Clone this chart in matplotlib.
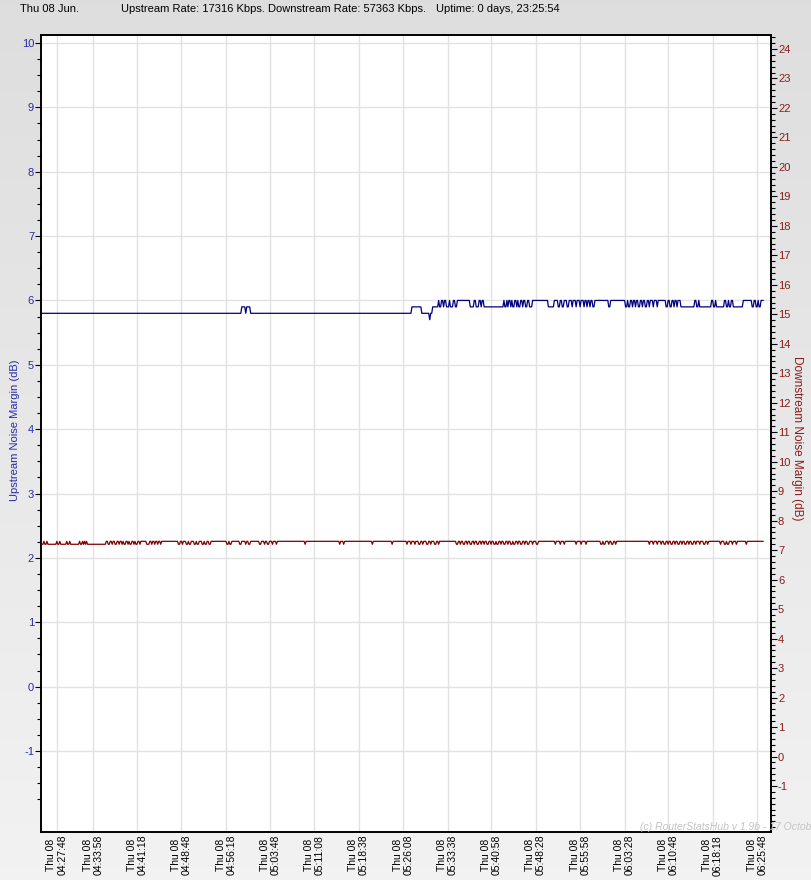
import numpy as np
import matplotlib
matplotlib.use("Agg")
import matplotlib.pyplot as plt
from matplotlib.ticker import FixedLocator

plt.rcParams["font.family"] = ["Liberation Sans", "DejaVu Sans"]
plt.rcParams["axes.unicode_minus"] = False

# --- Dados (amostras a cada ~10 s, eixo x = indice da amostra) ---
header_date = "Thu 08 Jun."
header_up = "Upstream Rate: 17316 Kbps."
header_down = "Downstream Rate: 57363 Kbps."
header_uptime = "Uptime: 0 days, 23:25:54"

tick_idx = [16, 53, 97, 142, 187, 232, 276, 321, 366, 411, 455, 500, 545, 590, 634, 679, 724]
tick_times = ["04:27:48", "04:33:58", "04:41:18", "04:48:48", "04:56:18", "05:03:48",
              "05:11:08", "05:18:38", "05:26:08", "05:33:38", "05:40:58", "05:48:28",
              "05:55:58", "06:03:28", "06:10:48", "06:18:18", "06:25:48"]
tick_day = "Thu 08"
n_samples = 731

# upstream noise margin: (indice onde muda, valor em dB)
up_changes = [
    (0, 5.8), (203, 5.9), (207, 5.8), (208, 5.9), (212, 5.8), (375, 5.9), (385, 5.8),
    (393, 5.7), (394, 5.8), (396, 5.9), (402, 6.0), (403, 5.9), (405, 6.0), (407, 5.9),
    (408, 6.0), (410, 5.9), (413, 6.0), (414, 5.9), (417, 6.0), (419, 5.9), (421, 6.0),
    (434, 5.9), (438, 6.0), (440, 5.9), (443, 6.0), (445, 5.9), (446, 6.0), (448, 5.9),
    (468, 6.0), (469, 5.9), (471, 6.0), (472, 5.9), (473, 6.0), (475, 5.9), (476, 6.0),
    (477, 5.9), (479, 6.0), (481, 5.9), (482, 6.0), (483, 5.9), (485, 6.0), (487, 5.9),
    (488, 6.0), (490, 5.9), (492, 6.0), (494, 5.9), (497, 6.0), (513, 5.9), (519, 6.0),
    (523, 5.9), (525, 6.0), (527, 5.9), (529, 6.0), (532, 5.9), (534, 6.0), (537, 5.9),
    (538, 6.0), (541, 5.9), (542, 6.0), (545, 5.9), (546, 6.0), (549, 5.9), (550, 6.0),
    (552, 5.9), (553, 6.0), (555, 5.9), (556, 6.0), (558, 5.9), (560, 6.0), (574, 5.9),
    (576, 6.0), (591, 5.9), (593, 6.0), (594, 5.9), (596, 6.0), (598, 5.9), (599, 6.0),
    (601, 5.9), (602, 6.0), (604, 5.9), (606, 6.0), (608, 5.9), (609, 6.0), (611, 5.9),
    (613, 6.0), (615, 5.9), (616, 6.0), (619, 5.9), (620, 6.0), (623, 5.9), (624, 6.0),
    (632, 5.9), (634, 6.0), (636, 5.9), (638, 6.0), (640, 5.9), (641, 6.0), (643, 5.9),
    (644, 6.0), (647, 5.9), (661, 6.0), (663, 5.9), (665, 6.0), (666, 5.9), (678, 6.0),
    (680, 5.9), (682, 6.0), (683, 5.9), (691, 6.0), (693, 5.9), (695, 6.0), (696, 5.9),
    (698, 6.0), (700, 5.9), (710, 6.0), (719, 5.9), (721, 6.0), (723, 5.9), (725, 6.0),
    (726, 5.9), (728, 6.0),
]

# downstream noise margin
down_changes = [
    (0, 7.2), (3, 7.3), (4, 7.2), (6, 7.3), (7, 7.2), (16, 7.3), (17, 7.2), (19, 7.3),
    (20, 7.2), (26, 7.3), (27, 7.2), (29, 7.3), (30, 7.2), (39, 7.3), (40, 7.2), (42, 7.3),
    (43, 7.2), (44, 7.3), (45, 7.2), (46, 7.3), (47, 7.2), (66, 7.3), (68, 7.2), (70, 7.3),
    (72, 7.2), (73, 7.3), (75, 7.2), (77, 7.3), (79, 7.2), (80, 7.3), (82, 7.2), (83, 7.3),
    (84, 7.2), (86, 7.3), (88, 7.2), (89, 7.3), (90, 7.2), (92, 7.3), (94, 7.2), (95, 7.3),
    (96, 7.2), (98, 7.3), (100, 7.2), (101, 7.3), (107, 7.2), (110, 7.3), (112, 7.2),
    (113, 7.3), (115, 7.2), (116, 7.3), (118, 7.2), (119, 7.3), (121, 7.2), (122, 7.3),
    (139, 7.2), (141, 7.3), (143, 7.2), (144, 7.3), (147, 7.2), (149, 7.3), (150, 7.2),
    (152, 7.3), (155, 7.2), (157, 7.3), (158, 7.2), (160, 7.3), (163, 7.2), (165, 7.3),
    (166, 7.2), (168, 7.3), (170, 7.2), (172, 7.3), (188, 7.2), (190, 7.3), (191, 7.2),
    (193, 7.3), (201, 7.2), (203, 7.3), (207, 7.2), (208, 7.3), (210, 7.2), (212, 7.3),
    (221, 7.2), (223, 7.3), (226, 7.2), (227, 7.3), (229, 7.2), (231, 7.3), (234, 7.2),
    (235, 7.3), (238, 7.2), (239, 7.3), (267, 7.2), (268, 7.3), (302, 7.2), (303, 7.3),
    (306, 7.2), (307, 7.3), (335, 7.2), (336, 7.3), (355, 7.2), (356, 7.3), (370, 7.2),
    (371, 7.3), (374, 7.2), (375, 7.3), (378, 7.2), (379, 7.3), (382, 7.2), (384, 7.3),
    (386, 7.2), (387, 7.3), (390, 7.2), (392, 7.3), (394, 7.2), (395, 7.3), (398, 7.2),
    (400, 7.3), (402, 7.2), (403, 7.3), (420, 7.2), (422, 7.3), (424, 7.2), (425, 7.3),
    (427, 7.2), (429, 7.3), (431, 7.2), (432, 7.3), (434, 7.2), (436, 7.3), (438, 7.2),
    (439, 7.3), (441, 7.2), (443, 7.3), (445, 7.2), (446, 7.3), (448, 7.2), (449, 7.3),
    (451, 7.2), (453, 7.3), (455, 7.2), (456, 7.3), (458, 7.2), (460, 7.3), (461, 7.2),
    (463, 7.3), (465, 7.2), (466, 7.3), (468, 7.2), (470, 7.3), (472, 7.2), (473, 7.3),
    (475, 7.2), (477, 7.3), (478, 7.2), (480, 7.3), (482, 7.2), (483, 7.3), (485, 7.2),
    (487, 7.3), (489, 7.2), (490, 7.3), (492, 7.2), (494, 7.3), (497, 7.2), (498, 7.3),
    (501, 7.2), (503, 7.3), (520, 7.2), (521, 7.3), (525, 7.2), (526, 7.3), (529, 7.2),
    (530, 7.3), (541, 7.2), (542, 7.3), (546, 7.2), (547, 7.3), (551, 7.2), (552, 7.3),
    (566, 7.2), (568, 7.3), (569, 7.2), (571, 7.3), (574, 7.2), (575, 7.3), (577, 7.2),
    (579, 7.3), (581, 7.2), (582, 7.3), (615, 7.2), (616, 7.3), (619, 7.2), (620, 7.3),
    (623, 7.2), (624, 7.3), (627, 7.2), (628, 7.3), (630, 7.2), (632, 7.3), (634, 7.2),
    (635, 7.3), (637, 7.2), (639, 7.3), (641, 7.2), (642, 7.3), (644, 7.2), (646, 7.3),
    (648, 7.2), (649, 7.3), (651, 7.2), (653, 7.3), (655, 7.2), (656, 7.3), (658, 7.2),
    (660, 7.3), (662, 7.2), (663, 7.3), (666, 7.2), (667, 7.3), (670, 7.2), (672, 7.3),
    (674, 7.2), (675, 7.3), (687, 7.2), (688, 7.3), (691, 7.2), (693, 7.3), (694, 7.2),
    (696, 7.3), (699, 7.2), (700, 7.3), (703, 7.2), (704, 7.3), (713, 7.2), (714, 7.3),
]

UP_COLOR = "#000080"
DOWN_COLOR = "#800000"
UP_TEXT = "#2a2aa8"
DOWN_TEXT = "#8b1c1c"


def runs_to_line(changes, end):
    '''Converte a lista de mudancas em vertices (uma amostra por transicao)'''
    xs, ys = [], []
    for k, (i0, v) in enumerate(changes):
        i1 = changes[k + 1][0] - 1 if k + 1 < len(changes) else end
        xs += [i0, i1]
        ys += [v, v]
    return xs, ys


fig = plt.figure(figsize=(8.12, 8.8), dpi=100)

# fundo cinza em degrade
bg = fig.add_axes([0, 0, 1, 1], zorder=-10)
grad = np.linspace(0.87, 0.95, 256).reshape(-1, 1)
bg.imshow(np.dstack([grad, grad, grad]), aspect="auto", extent=[0, 1, 0, 1])
bg.set_axis_off()

ax = fig.add_axes([41 / 812, 48 / 880, 730 / 812, 797 / 880])
ax.set_facecolor("white")
ax2 = ax.twinx()

xs, ys = runs_to_line(up_changes, n_samples - 1)
ax.plot(xs, ys, color=UP_COLOR, lw=0.9, zorder=3)
xs, ys = runs_to_line(down_changes, n_samples - 1)
ax2.plot(xs, ys, color=DOWN_COLOR, lw=0.9, zorder=3)

ax.set_xlim(0, 738)
ax.set_ylim(-2.259, 10.124)
ax2.set_ylim(-2.56, 24.475)

# eixo esquerdo
ax.yaxis.set_major_locator(FixedLocator(list(range(-1, 11))))
ax.yaxis.set_minor_locator(FixedLocator([v / 4 for v in range(-7, 41)]))
ax.tick_params(axis="y", which="major", length=4, width=0.8, pad=1, labelsize=8, labelcolor=UP_TEXT)
ax.tick_params(axis="y", which="minor", length=3, width=0.8)

# eixo direito
ax2.yaxis.set_major_locator(FixedLocator(list(range(-1, 25))))
ax2.yaxis.set_minor_locator(FixedLocator([v / 5 for v in range(-12, 123)]))
ax2.tick_params(axis="y", which="major", length=4, width=0.8, pad=1, labelsize=8, labelcolor=DOWN_TEXT)
ax2.tick_params(axis="y", which="minor", length=3, width=0.8)

# eixo x com rotulos em duas linhas
ax.set_xticks(tick_idx)
ax.set_xticklabels([f"{tick_day}\n{t}" for t in tick_times], rotation=90,
                   fontsize=7.5, va="top", ha="center", linespacing=1.1)
ax.tick_params(axis="x", length=0, pad=2)

ax.grid(True, which="major", color="#e2e2e2", lw=1, zorder=0)
ax.set_axisbelow(True)
for a in (ax, ax2):
    for sp in a.spines.values():
        sp.set_color("black")
        sp.set_linewidth(1.2)

fig.text(15 / 812, 1 - 430 / 880, "Upstream Noise Margin (dB)", rotation=90,
         color=UP_TEXT, fontsize=8, ha="center", va="center")
fig.text(797 / 812, 1 - 438 / 880, "Downstream Noise Margin (dB)", rotation=270,
         color=DOWN_TEXT, fontsize=8.5, ha="center", va="center")

# cabecalho
hy = 1 - 9 / 880
fig.text(20 / 812, hy, header_date, fontsize=8, va="center")
fig.text(121 / 812, hy, header_up, fontsize=8, va="center")
fig.text(268 / 812, hy, header_down, fontsize=8, va="center")
fig.text(436 / 812, hy, header_uptime, fontsize=8, va="center")

# marca d'agua (cortada na borda, como no original)
fig.text(640 / 812, 1 - 827 / 880, "(c) RouterStatsHub v 1.9b - 17 October 2016",
         fontsize=7.5, style="italic", color="#c4c4c4", va="center", ha="left", zorder=20)

fig.savefig("out.png", dpi=100)
